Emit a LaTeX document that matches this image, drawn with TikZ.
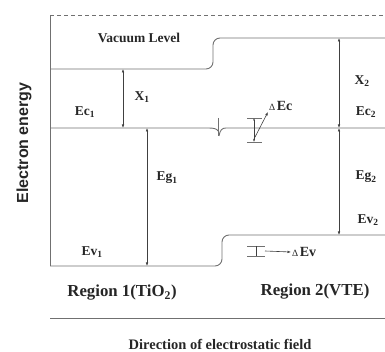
\documentclass[tikz,border=0pt]{standalone}
\usepackage{fontspec}
\setmainfont{Liberation Serif}
\setsansfont{Liberation Sans}
\usetikzlibrary{arrows.meta,positioning}
\definecolor{bandgray}{HTML}{707070}

\begin{document}
\begin{tikzpicture}[x=1pt,y=-1pt,>={Latex[length=3.5pt,width=2.6pt]},
  band/.style={bandgray,line width=0.9pt},
  gap/.style={<->,black!75,line width=0.6pt},
  lbl/.style={font=\fontsize{13.5}{15}\selectfont\bfseries,text=black!85},
  region/.style={font=\fontsize{16.8}{19}\selectfont\bfseries,text=black!85}]
  \useasboundingbox (0,0) rectangle (385,352);
  % frame and band edges
  \draw[band,dash pattern=on 4pt off 3pt] (50,15) -- (385,15);
  \draw[band] (50,15) -- (50,266);
  \draw[band,rounded corners=7pt] (50,69) -- (213,69) -- (213,38) -- (385,38);
  \draw[band] (50,128) -- (209,128) .. controls (214,128) and (217,129) .. (218,131);
  \draw[band] (218,118) -- (218,136);
  \draw[band] (219,136) .. controls (220,130) and (222,128) .. (226,128) -- (385,128);
  \draw[band,rounded corners=7pt] (50,266) -- (222,266) -- (222,235) -- (385,235);
  \draw[band] (50,318) -- (385,318);

  % gap arrows
  \coordinate (x1top) at (123,69);
  \coordinate (x1bot) at (123,128);
  \coordinate (g1top) at (147,128);
  \coordinate (g1bot) at (147,266);
  \coordinate (x2top) at (339,38);
  \coordinate (x2bot) at (339,128);
  \coordinate (g2bot) at (339,235);
  \draw[gap] (x1top) -- (x1bot);
  \draw[gap] (g1top) -- (g1bot);
  \draw[gap] (x2top) -- (x2bot);
  \draw[gap] (x2bot) -- (g2bot);

  % offsets
  \coordinate (dectop) at (254,118);
  \coordinate (decbot) at (254,142);
  \draw[band,line width=0.6pt] (247,118) -- (262,118) (247,142) -- (262,142);
  \draw[gap,{Latex[length=2.5pt,width=2pt]}-{Latex[length=2.5pt,width=2pt]}] (dectop) -- (decbot);
  \node[lbl,anchor=south west,inner sep=1pt] (dec) at (268,112) {\fontsize{9.5}{10}\selectfont\mdseries Δ\,\fontsize{14}{15}\selectfont\bfseries Ec};
  \draw[->,black!75,line width=0.6pt] (254,139) -- (dec.south west);

  \coordinate (devleft) at (256,246);
  \coordinate (devright) at (256,256);
  \draw[band,line width=0.6pt] (247,246) -- (265,246) (247,256) -- (265,256);
  \draw[black!75,line width=0.6pt] (devleft) -- (devright);
  \node[lbl,anchor=west,inner sep=1pt] (dev) at (291,252) {\fontsize{9.5}{10}\selectfont\mdseries Δ\,\fontsize{14}{15}\selectfont\bfseries Ev};
  \draw[->,black!75,line width=0.6pt] (265,251) -- (dev.west);

  % labels
  \node[lbl] (vac) at (139,38) {Vacuum Level};
  \node[lbl] (chi1) at (142,97) {X\textsubscript{1}};
  \node[lbl] (ec1) at (85,112) {Ec\textsubscript{1}};
  \node[lbl] (eg1) at (167,178) {Eg\textsubscript{1}};
  \node[lbl] (ev1) at (92,252) {Ev\textsubscript{1}};
  \node[lbl] (chi2) at (362,81) {X\textsubscript{2}};
  \node[lbl] (ec2) at (366,112) {Ec\textsubscript{2}};
  \node[lbl] (eg2) at (366,177) {Eg\textsubscript{2}};
  \node[lbl] (ev2) at (368,220) {Ev\textsubscript{2}};
  \node[region] (reg1) at (122,293) {Region 1(TiO\textsubscript{2})};
  \node[region] (reg2) at (315,292) {Region 2(VTE)};
  \node[lbl,font=\fontsize{14.5}{16}\selectfont\bfseries] (field) at (220,344) {Direction of electrostatic field};
  \node[font=\sffamily\bfseries\fontsize{16}{18}\selectfont,text=black!85,rotate=90] (energy) at (24,143) {Electron energy};
\end{tikzpicture}
\end{document}
